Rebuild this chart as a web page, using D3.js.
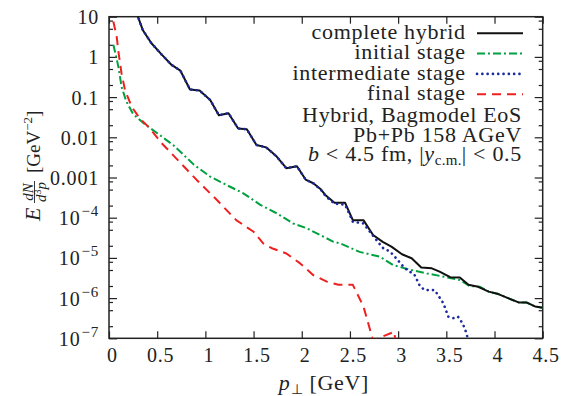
<!DOCTYPE html>
<html><head><meta charset="utf-8">
<script src="https://cdn.jsdelivr.net/npm/d3@7"></script>
<style>
body{margin:0;background:#fff}
text{font-family:"Liberation Serif","Times New Roman",serif;fill:#222}
</style>
</head><body>
<svg id="c" width="568" height="396"></svg>
<script>
// ---------- data ----------
const xTickValues = [0,0.5,1,1.5,2,2.5,3,3.5,4,4.5];
const xTickLabels = ["0","0.5","1","1.5","2","2.5","3","3.5","4","4.5"];
const yTickValues = [10,1,0.1,0.01,0.001,1e-4,1e-5,1e-6,1e-7];
const yTickBase   = ["10","1","0.1","0.01","0.001","10","10","10","10"];
const yTickExp    = ["","","","","","−4","−5","−6","−7"];
const yMinorMult  = [2,5,8];

const seriesNames = ["complete hybrid","initial stage","intermediate stage","final stage"];

const pHybrid = [0.25,0.30,0.35,0.44,0.55,0.65,0.74,0.84,0.94,1.05,1.14,1.24,1.34,1.43,1.53,1.63,1.74,1.84,1.95,2.04,2.12,2.20,2.25,2.34,2.45,2.53,2.64,2.74,2.84,2.93,3.04,3.14,3.24,3.35,3.43,3.54,3.64,3.73,3.83,3.94,4.04,4.14,4.25,4.33,4.42,4.50];
const vHybrid = [28.2,10,4.68,2.19,1.12,0.631,0.457,0.155,0.145,0.0851,0.0355,0.0398,0.0166,0.0158,6.46e-3,5.62e-3,3.31e-3,1.70e-3,1.91e-3,8.9e-4,7.2e-4,5.0e-4,3.55e-4,2.34e-4,2.34e-4,8.7e-5,8.7e-5,3.72e-5,2.51e-5,1.91e-5,1.23e-5,9.8e-6,5.75e-6,5.5e-6,4.57e-6,3.31e-6,3.24e-6,2.14e-6,1.91e-6,1.45e-6,1.26e-6,1.0e-6,7.8e-7,7.8e-7,6.2e-7,5.75e-7];

const pInitial = [0.045,0.08,0.10,0.13,0.18,0.25,0.36,0.49,0.67,0.88,1.05,1.22,1.39,1.57,1.74,1.91,2.05,2.19,2.33,2.40,2.60,2.81,2.95,3.12,3.30,3.50,3.64,3.74,3.85,3.94,4.04,4.14,4.25,4.33,4.42,4.50];
const vInitial = [2.0,0.89,0.525,0.182,0.0776,0.038,0.0224,0.0132,6.3e-3,2.09e-3,1.05e-3,6.5e-4,4.1e-4,2.09e-4,1.29e-4,7.2e-5,5.5e-5,3.72e-5,2.51e-5,2.29e-5,1.41e-5,1.07e-5,6.6e-6,5.1e-6,4.1e-6,3.31e-6,2.82e-6,2.0e-6,1.91e-6,1.45e-6,1.26e-6,1.0e-6,7.8e-7,7.8e-7,6.2e-7,5.75e-7];

const pInter = [0.25,0.30,0.35,0.44,0.55,0.65,0.74,0.84,0.94,1.05,1.14,1.24,1.34,1.43,1.53,1.63,1.74,1.84,1.95,2.04,2.12,2.20,2.25,2.34,2.45,2.53,2.64,2.74,2.84,2.92,2.98,3.07,3.17,3.23,3.28,3.38,3.47,3.52,3.57,3.62,3.67,3.71,3.74];
const vInter = [28.2,10,4.68,2.19,1.12,0.631,0.457,0.155,0.145,0.0851,0.0355,0.0398,0.0166,0.0158,6.46e-3,5.62e-3,3.31e-3,1.70e-3,1.91e-3,8.9e-4,7.2e-4,4.9e-4,3.4e-4,2.24e-4,2.09e-4,7.9e-5,7.2e-5,3.55e-5,1.78e-5,1.41e-5,9.8e-6,5.5e-6,3.8e-6,1.91e-6,1.58e-6,1.58e-6,7.4e-7,3.47e-7,3.16e-7,3.47e-7,2.34e-7,1.32e-7,6.3e-8];

const pFinal = [0.045,0.08,0.10,0.13,0.166,0.235,0.32,0.425,0.547,0.616,0.91,1.12,1.32,1.50,1.60,1.69,1.84,1.98,2.12,2.26,2.38,2.53,2.64,2.74,2.96,3.05];
const vFinal = [7.6,3.16,1.23,0.389,0.151,0.0575,0.0295,0.0166,7.1e-3,4.8e-3,8.7e-4,2.75e-4,8.7e-5,4.47e-5,2.29e-5,1.74e-5,1.29e-5,7.4e-6,3.72e-6,2.57e-6,2.14e-6,2.14e-6,6.2e-7,8.9e-8,1.45e-7,3.2e-9];

// ---------- layout ----------
const L = 109, R = 542.7, T = 16.7, B = 338.3;
const svg = d3.select("#c");
const x = d3.scaleLinear().domain([0,4.5]).range([L,R]);
const y = d3.scaleLog().domain([1e-7,10]).range([B,T]);
const ink = "#222";

svg.append("clipPath").attr("id","clip").append("rect")
  .attr("x",L).attr("y",T).attr("width",R-L).attr("height",B-T);

const yMinor = [];
yTickValues.slice(0,-1).forEach(d => { yMinorMult.forEach(m => yMinor.push(m*d/10)); });

function strip(g){ g.attr("font-family",null); g.select(".domain").remove(); g.selectAll("line").attr("stroke",ink).attr("stroke-width",1.2); }

// bottom axis
const gB = svg.append("g").attr("transform",`translate(0,${B})`)
  .call(d3.axisBottom(x).tickValues(xTickValues).tickSize(-7).tickPadding(9.5).tickFormat((d,i)=>xTickLabels[i]))
  .call(strip);
gB.selectAll("text").attr("dx",3).style("font-size","20px").style("letter-spacing","0.8px").attr("fill",ink);
// top axis
svg.append("g").attr("transform",`translate(0,${T})`)
  .call(d3.axisTop(x).tickValues(xTickValues).tickSize(-7).tickFormat("")).call(strip);
// left axis
const gL = svg.append("g").attr("transform",`translate(${L},0)`)
  .call(d3.axisLeft(y).tickValues(yTickValues).tickSize(-8).tickPadding(10).tickFormat(""))
  .call(strip);
gL.selectAll(".tick text").each(function(d,i){
  const t = d3.select(this).attr("dy",null).attr("y",7).attr("fill",ink)
     .style("font-size","20px").style("letter-spacing","0.8px");
  t.text(null);
  t.append("tspan").text(yTickBase[i]);
  if (yTickExp[i]) t.append("tspan").attr("dy",-9).attr("dx",1).style("font-size","15px").text(yTickExp[i]);
});
svg.append("g").attr("transform",`translate(${L},0)`)
  .call(d3.axisLeft(y).tickValues(yMinor).tickSize(-4).tickFormat("")).call(strip);
// right axis
svg.append("g").attr("transform",`translate(${R},0)`)
  .call(d3.axisRight(y).tickValues(yTickValues).tickSize(-8).tickFormat("")).call(strip);
svg.append("g").attr("transform",`translate(${R},0)`)
  .call(d3.axisRight(y).tickValues(yMinor).tickSize(-4).tickFormat("")).call(strip);

// frame
svg.append("rect").attr("x",L).attr("y",T).attr("width",R-L).attr("height",B-T)
  .attr("fill","none").attr("stroke",ink).attr("stroke-width",1.5);

// ---------- series ----------
const styles = [
  {color:"#111111", dash:null, width:2, cap:"butt"},
  {color:"#00a040", dash:"8,3,2,3", width:2, cap:"butt"},
  {color:"#1c2aa0", dash:"0.1,5.2", width:2.6, cap:"round"},
  {color:"#ee2020", dash:"9,6", width:2, cap:"butt"}
];
const series = [
  {p:pHybrid, v:vHybrid},
  {p:pInitial, v:vInitial},
  {p:pInter, v:vInter},
  {p:pFinal, v:vFinal}
];
const line = d3.line().x(d=>x(d[0])).y(d=>y(d[1]));
const drawOrder = [1,3,0,2];
const plot = svg.append("g").attr("clip-path","url(#clip)");
drawOrder.forEach(i => {
  const s = series[i], st = styles[i];
  plot.append("path").datum(s.p.map((p,k)=>[p,s.v[k]]))
    .attr("d",line).attr("fill","none").attr("stroke",st.color)
    .attr("stroke-width",st.width).attr("stroke-dasharray",st.dash)
    .attr("stroke-linecap",st.cap).attr("stroke-linejoin","round");
});

// ---------- legend ----------
const lg = svg.append("g");
seriesNames.forEach((name,i) => {
  const yy = 33.3 + 20.3*i;
  lg.append("text").attr("x",465.7).attr("y",yy+5.8).attr("text-anchor","end")
    .style("font-size","22px").style("letter-spacing","0.7px").text(name);
  const st = styles[i];
  lg.append("line").attr("x1",477).attr("x2",523).attr("y1",yy).attr("y2",yy)
    .attr("stroke",st.color).attr("stroke-width",st.width)
    .attr("stroke-dasharray",st.dash).attr("stroke-linecap",st.cap);
});
const info = lg.append("g").style("font-size","22px").style("letter-spacing","0.7px");
info.append("text").attr("x",522).attr("y",121.5).attr("text-anchor","end").text("Hybrid, Bagmodel EoS");
info.append("text").attr("x",522).attr("y",141.5).attr("text-anchor","end").text("Pb+Pb 158 AGeV");
const t3 = info.append("text").attr("x",522).attr("y",161).attr("text-anchor","end");
t3.append("tspan").style("font-style","italic").text("b");
t3.append("tspan").text(" < 4.5 fm, |");
t3.append("tspan").style("font-style","italic").text("y");
t3.append("tspan").attr("dy",4).style("font-size","15px").style("letter-spacing","0.3px").text("c.m.");
t3.append("tspan").attr("dy",-4).text("| < 0.5");

// ---------- axis titles ----------
const xt = svg.append("text").attr("x",324).attr("y",389.5).attr("text-anchor","middle")
  .style("font-size","22px").style("letter-spacing","0.7px");
xt.append("tspan").style("font-style","italic").text("p");
xt.append("tspan").attr("dy",4).style("font-size","14px").text("⊥");
xt.append("tspan").attr("dy",-4).text(" [GeV]");

const yl = svg.append("g").attr("transform","translate(40,221) rotate(-90)");
yl.append("text").attr("x",0).attr("y",0).style("font-size","22px").style("font-style","italic").text("E");
yl.append("text").attr("x",29).attr("y",-7.5).attr("text-anchor","middle")
  .style("font-size","15px").style("font-style","italic").text("dN");
yl.append("line").attr("x1",18).attr("x2",40).attr("y1",-5.5).attr("y2",-5.5).attr("stroke",ink).attr("stroke-width",0.9);
const den = yl.append("text").attr("x",29).attr("y",6).attr("text-anchor","middle")
  .style("font-size","15px").style("font-style","italic");
den.append("tspan").text("d");
den.append("tspan").attr("dy",-5).style("font-size","10px").style("font-style","normal").text("3");
den.append("tspan").attr("dy",5).text("p");
const unit = yl.append("text").attr("x",48).attr("y",0).style("font-size","19px");
unit.append("tspan").text("[GeV");
unit.append("tspan").attr("dy",-8).style("font-size","13px").text("−2");
unit.append("tspan").attr("dy",8).text("]");
</script>
</body></html>
